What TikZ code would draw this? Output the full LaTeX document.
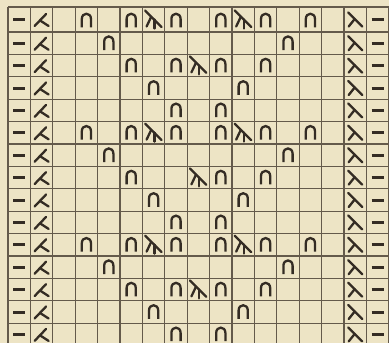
\documentclass[tikz,border=0pt]{standalone}
\definecolor{paper}{RGB}{237,228,197}
\definecolor{gridc}{RGB}{100,90,75}
\definecolor{ink}{RGB}{52,44,36}
\tikzset{
  gridline/.style={draw=gridc, line width=1.1pt},
  sym/.style={draw=ink, line width=2.3pt, line cap=round},
  purlbar/.style={draw=ink, line width=3pt},
  pics/purl/.style={code={\draw[purlbar] (-6,0) -- (6,0);}},
  pics/arch/.style={code={\draw[sym, line cap=butt] (-4.6,6.8) -- (-4.6,-1.5) .. controls (-4.6,-8.5) and (4.6,-8.5) .. (4.6,-1.5) -- (4.6,6.8);}},
  pics/ktog/.style={code={\draw[sym] (-7,6.5) -- (4.5,-5.5); \draw[sym] (-1.5,1) -- (7,6.5);}},
  pics/sskdec/.style={code={\draw[sym] (-7,-7) -- (7,7); \draw[sym] (-0.5,-0.5) -- (-6.5,7);}},
  pics/decthree/.style={code={\draw[sym] (-8.5,-8) -- (8,8.5); \draw[sym] (-2.5,-1.5) -- (-7,8); \draw[sym] (0.8,1) -- (0.8,10);}}
}
\begin{document}
\begin{tikzpicture}[x=1pt,y=-1pt]
\fill[paper] (0,0) rectangle (389,343);
\useasboundingbox (0,0) rectangle (389,343);
\begin{scope}
\clip (0,0) rectangle (389,343);
% grid
\foreach \k in {0,...,17} {
  \draw[gridline] ({8+22.4*\k},7) -- ({8+22.4*\k},346);
}
\draw[gridline] (8,7) -- (389,7);
\foreach \k in {0,...,14} {
  \draw[gridline] (8,{32+22.4*\k}) -- (389,{32+22.4*\k});
}
% edge stitches
\foreach \r in {1,...,15} {
  \pgfmathsetmacro\yc{\r==1 ? 19.5 : 43.2+22.4*(\r-2)}
  \pic at (19.2,\yc) {purl};
  \pic at (377.6,\yc) {purl};
  \pic at (41.6,\yc) {ktog};
  \pic at (355.2,\yc) {sskdec};
}
% yarn overs
\foreach \c/\r in {4/1,6/1,8/1,10/1,12/1,14/1,
                   5/2,13/2,
                   6/3,8/3,10/3,12/3,
                   7/4,11/4,
                   8/5,10/5,
                   4/6,6/6,8/6,10/6,12/6,14/6,
                   5/7,13/7,
                   6/8,10/8,12/8,
                   7/9,11/9,
                   8/10,10/10,
                   4/11,6/11,8/11,10/11,12/11,14/11,
                   5/12,13/12,
                   6/13,8/13,10/13,12/13,
                   7/14,11/14,
                   8/15,10/15} {
  \pgfmathsetmacro\yc{\r==1 ? 20.5 : 43.2+22.4*(\r-2)}
  \pic at ({22.4*\c-3.2},\yc) {arch};
}
% double decreases
\foreach \c/\r in {7/1,11/1,9/3,7/6,11/6,9/8,7/11,11/11,9/13} {
  \pgfmathsetmacro\yc{\r==1 ? 18.5 : 42+22.4*(\r-2)}
  \pic at ({22.4*\c-3.2},\yc) {decthree};
}
\end{scope}
\end{tikzpicture}
\end{document}
